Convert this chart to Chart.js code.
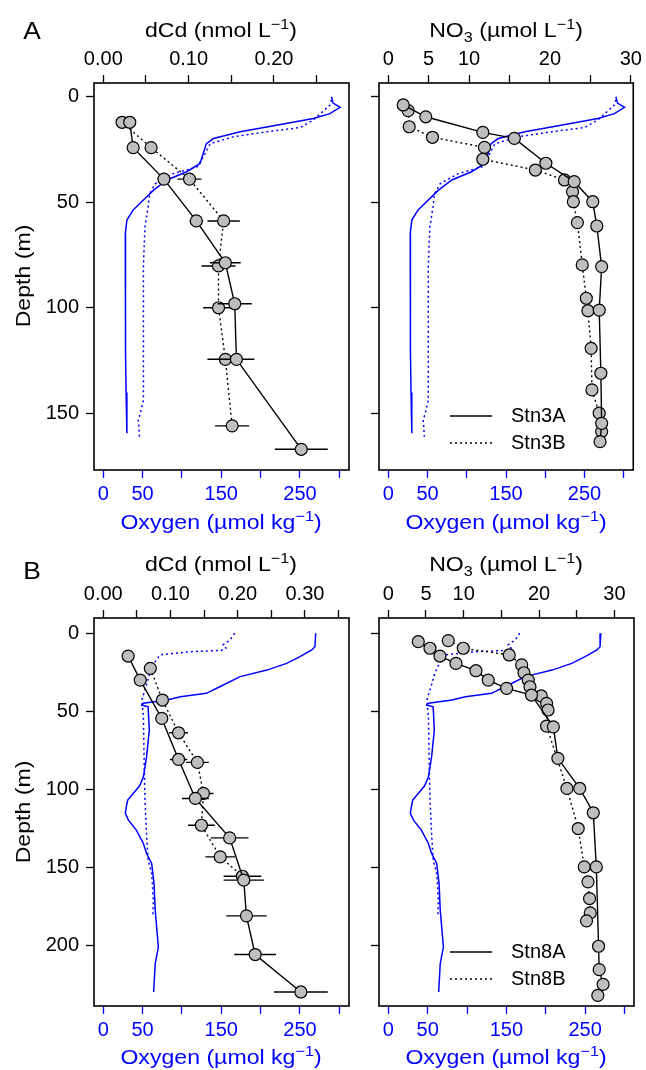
<!DOCTYPE html>
<html>
<head>
<meta charset="utf-8">
<script src="https://cdn.jsdelivr.net/npm/chart.js@4.4.1/dist/chart.umd.min.js"></script>
<style>
  html, body { margin: 0; padding: 0; background: #fff; }
  #wrap { position: relative; width: 646px; height: 1070px; overflow: hidden;
          font-family: "Liberation Sans", Arial, sans-serif; color: #000; }
  #wrap canvas { position: absolute; left: 0; top: 0; }
  .lbl { position: absolute; transform: translate(-50%, -50%) scaleX(1.1); white-space: nowrap;
         font-size: 21px; line-height: 1; }
  .lbl sup, .lbl sub { font-size: 70%; line-height: 0; }
  .blue { color: #0000ff; }
  .tag { font-size: 24px; transform: translate(-50%, -50%) scaleX(1.1); }
  .rot { transform: translate(-50%, -50%) rotate(-90deg) scaleX(1.1); }
</style>
</head>
<body>
<div id="wrap">
  <canvas id="cdA" width="646" height="1070"></canvas>
  <canvas id="no3A" width="646" height="1070"></canvas>
  <canvas id="cdB" width="646" height="1070"></canvas>
  <canvas id="no3B" width="646" height="1070"></canvas>

  <div class="lbl tag" style="left:32px;top:31px">A</div>
  <div class="lbl tag" style="left:32px;top:571px">B</div>

  <div class="lbl" style="left:221px;top:29px">dCd (nmol L<sup>−1</sup>)</div>
  <div class="lbl" style="left:506px;top:29px">NO<sub>3</sub> (µmol L<sup>−1</sup>)</div>
  <div class="lbl" style="left:221px;top:563px">dCd (nmol L<sup>−1</sup>)</div>
  <div class="lbl" style="left:506px;top:563px">NO<sub>3</sub> (µmol L<sup>−1</sup>)</div>

  <div class="lbl blue" style="left:221px;top:521px">Oxygen (µmol kg<sup>−1</sup>)</div>
  <div class="lbl blue" style="left:506px;top:521px">Oxygen (µmol kg<sup>−1</sup>)</div>
  <div class="lbl blue" style="left:221px;top:1056px">Oxygen (µmol kg<sup>−1</sup>)</div>
  <div class="lbl blue" style="left:506px;top:1056px">Oxygen (µmol kg<sup>−1</sup>)</div>

  <div class="lbl rot" style="left:22px;top:276px">Depth (m)</div>
  <div class="lbl rot" style="left:22px;top:812px">Depth (m)</div>
</div>

<script>
// ---- Stn3 dissolved Cd (nmol/L) ----
const cdDepth3A = [12.1, 24.1, 39.0, 58.8, 78.6, 98.0, 124.3, 166.9];
const cd3A      = [0.031, 0.035, 0.071, 0.109, 0.143, 0.154, 0.156, 0.232];
const cdErr3A   = [0, 0, 0, 0.008, 0.018, 0.020, 0.021, 0.031];
const cdDepth3B = [12.1, 24.1, 39.0, 58.8, 80.1, 99.9, 124.3, 155.8];
const cd3B      = [0.022, 0.056, 0.101, 0.141, 0.135, 0.135, 0.143, 0.151];
const cdErr3B   = [0, 0, 0.014, 0.019, 0.020, 0.018, 0.021, 0.020];

// ---- Stn3 nitrate (umol/L) ----
const no3Depth3A = [3.9, 9.5, 16.9, 19.7, 31.5, 40.2, 49.7, 61.2, 80.4, 101.0, 130.9, 154.6, 163.3];
const no33A      = [1.85, 4.64, 11.7, 15.6, 19.5, 23.0, 25.3, 25.8, 26.4, 26.1, 26.3, 26.4, 26.2];
const no3Depth3B = [6.6, 14.2, 19.2, 24.0, 29.6, 34.7, 39.4, 45.0, 49.7, 59.6, 79.6, 95.4, 101.3, 119.1, 138.8, 149.8, 158.5];
const no33B      = [2.46, 2.59, 5.47, 11.9, 11.7, 18.2, 21.8, 22.8, 22.9, 23.4, 24.0, 24.5, 24.7, 25.1, 25.2, 26.1, 26.4];

// ---- Stn3 oxygen (umol/kg) ----
const oxyDepth3A = [0, 3, 5, 8, 10.3, 13.5, 16.6, 19.8, 22.2, 26.9, 31.6, 35.5, 39.4, 44.2, 48.9, 53.6, 58.4, 64.7, 90, 120, 140, 159.3];
const oxy3A      = [290, 292, 301, 288, 267, 220, 174, 140, 131, 127, 123, 106, 81, 64, 51, 38, 30, 28, 28, 28.5, 29, 30];
const oxyDepth3B = [1.5, 4, 8, 11, 14.6, 16.6, 19, 22.2, 28.5, 33.3, 36.4, 41.2, 45.9, 52.2, 61.7, 80, 110, 143.6, 150, 153, 160.9];
const oxy3B      = [290, 288, 276, 267, 250, 208, 165, 136, 127, 119, 89, 66, 59, 57, 53, 51, 51, 51, 47, 44.5, 46];

// ---- Stn8 dissolved Cd ----
const cdDepth8A = [14.6, 30.0, 54.6, 80.9, 105.9, 131.2, 158.3, 181.2, 206.0, 230.0];
const cd8A      = [0.037, 0.055, 0.087, 0.112, 0.137, 0.188, 0.209, 0.213, 0.226, 0.294];
const cdErr8A   = [0, 0, 0.009, 0.013, 0.020, 0.028, 0.030, 0.030, 0.031, 0.040];
const cdDepth8B = [22.5, 42.8, 63.8, 82.8, 102.7, 123.1, 143.4, 155.8];
const cd8B      = [0.070, 0.088, 0.112, 0.140, 0.149, 0.146, 0.174, 0.207];
const cdErr8B   = [0, 0.009, 0.014, 0.017, 0.015, 0.020, 0.022, 0.028];

// ---- Stn8 nitrate ----
const no3Depth8A = [5.4, 9.6, 14.6, 19.3, 24.0, 30.0, 35.3, 39.6, 60.0, 80.2, 99.5, 115.1, 149.8, 200.7, 215.7, 225.1, 232.2];
const no38A      = [3.98, 5.53, 6.86, 8.98, 11.63, 13.26, 15.7, 19.0, 21.9, 22.5, 25.4, 27.2, 27.6, 27.9, 27.98, 28.5, 27.8];
const no3Depth8B = [4.7, 9.6, 13.9, 20.3, 25.3, 30.0, 34.3, 40.2, 44.9, 49.2, 59.5, 99.5, 125.2, 149.8, 159.4, 170.1, 179.3, 184.4];
const no38B      = [7.96, 9.95, 16.05, 17.7, 18.0, 18.57, 18.8, 20.3, 21.0, 21.2, 21.0, 23.7, 25.2, 26.0, 26.5, 26.7, 26.8, 26.3];

// ---- Stn8 oxygen ----
const oxyDepth8A = [0, 8.6, 10.7, 15, 19.3, 23.6, 27.8, 34.3, 38.5, 40.7, 42.8, 44.9, 46, 47.1, 62, 79.2, 92, 98, 102.7, 107, 112, 115.5, 119.8, 126.2, 134.8, 141.2, 147.6, 160.5, 177.6, 201.2, 211.8, 230];
const oxy8A      = [270, 269, 265, 250, 233, 208, 174, 148, 131, 98, 81, 51, 49, 57, 58.5, 55, 51, 46, 38, 31, 29, 28, 32, 42, 51, 55, 61.5, 64.5, 66, 70, 66, 64];
const oxyDepth8B = [0, 4.3, 7.5, 9.5, 11, 11.8, 13.9, 18.2, 25.7, 36.4, 42.8, 53.5, 83.4, 107, 128.4, 145.5, 154, 171.2, 180.8];
const oxy8B      = [167, 161, 152, 156, 150, 110, 72, 66, 59, 53, 49, 51, 52, 53, 55, 57, 61.5, 63.6, 63];

// ---- tick values and labels ----
const depthTicksA  = [0, 50, 100, 150];
const depthLabelsA = ['0', '50', '100', '150'];
const depthTicksB  = [0, 50, 100, 150, 200];
const depthLabelsB = ['0', '50', '100', '150', '200'];
const cdTicksA   = [0, 0.05, 0.10, 0.15, 0.20, 0.25];
const cdLabelsA  = ['0.00', '', '0.10', '', '0.20', ''];
const cdTicksB   = [0, 0.05, 0.10, 0.15, 0.20, 0.25, 0.30, 0.35];
const cdLabelsB  = ['0.00', '', '0.10', '', '0.20', '', '0.30', ''];
const no3Ticks   = [0, 5, 10, 15, 20, 25, 30];
const no3Labels  = ['0', '5', '10', '', '20', '', '30'];
const oxyTicks   = [0, 50, 100, 150, 200, 250, 300];
const oxyLabels  = ['0', '50', '', '150', '', '250', ''];

const FONT = '"Liberation Sans", Arial, sans-serif';
const TICK_FONT = { family: FONT, size: 20, lineHeight: 1.2 };
const BLUE = '#0000ff';
const DOTS = [2, 3];

const pts = (xs, ys) => xs.map((x, i) => ({ x, y: ys[i] }));

// box around the plotting area
const frame = {
    id: 'frame',
    afterDatasetsDraw(chart) {
        const { ctx, chartArea: a } = chart;
        ctx.save();
        ctx.strokeStyle = '#000';
        ctx.lineWidth = 1.6;
        ctx.strokeRect(a.left, a.top, a.right - a.left, a.bottom - a.top);
        ctx.restore();
    }
};

// horizontal error bars, drawn just under their circles
const errorBars = {
    id: 'errorBars',
    beforeDatasetDraw(chart, args) {
        const ds = chart.data.datasets[args.index];
        if (!ds.errors) return;
        const xs = chart.scales[ds.xAxisID], ys = chart.scales[ds.yAxisID];
        const ctx = chart.ctx;
        ctx.save();
        ctx.strokeStyle = '#000';
        ctx.lineWidth = 1.4;
        ctx.beginPath();
        ds.data.forEach((p, i) => {
            const e = ds.errors[i];
            if (!e) return;
            const y = ys.getPixelForValue(p.y);
            ctx.moveTo(xs.getPixelForValue(p.x - e), y);
            ctx.lineTo(xs.getPixelForValue(p.x + e), y);
        });
        ctx.stroke();
        ctx.restore();
    }
};

// station key in the lower part of the nitrate panels
const stnLegend = {
    id: 'stnLegend',
    afterDraw(chart, args, opts) {
        if (!opts.labels) return;
        const { ctx, chartArea: a } = chart;
        opts.labels.forEach((name, i) => {
            const y = a.bottom - 54 + i * 27;
            ctx.save();
            ctx.strokeStyle = '#000';
            ctx.lineWidth = 1.4;
            ctx.setLineDash(i ? DOTS : []);
            ctx.beginPath();
            ctx.moveTo(a.left + 71, y);
            ctx.lineTo(a.left + 113, y);
            ctx.stroke();
            ctx.fillStyle = '#000';
            ctx.font = `20px ${FONT}`;
            ctx.textBaseline = 'middle';
            ctx.fillText(name, a.left + 132, y);
            ctx.restore();
        });
    }
};

function axis(position, min, max, ticks, labels, color, extra) {
    return Object.assign({
        type: 'linear',
        position, min, max,
        afterBuildTicks: s => { s.ticks = ticks.map(v => ({ value: v })); },
        afterFit: s => { if (s.isHorizontal()) s.height = 40; else s.width = 50; },
        grid: { drawOnChartArea: false, color, tickLength: 8, tickWidth: 1.3 },
        border: { display: false },
        ticks: {
            color, autoSkip: false, maxRotation: 0, padding: 4,
            font: TICK_FONT,
            callback: (v, i) => labels[i]
        }
    }, extra || {});
}

function profile(label, xAxisID, xs, depths, errors, dotted) {
    return {
        label, xAxisID, yAxisID: 'y',
        data: pts(xs, depths),
        errors,
        showLine: true,
        borderColor: '#000',
        borderWidth: 1.4,
        borderDash: dotted ? DOTS : [],
        pointRadius: 6,
        pointBackgroundColor: '#bebebe',
        pointBorderColor: '#000',
        pointBorderWidth: 1.2
    };
}

function oxygen(label, xs, depths, dotted) {
    return {
        label, xAxisID: 'xO2', yAxisID: 'y',
        data: pts(xs, depths),
        showLine: true,
        borderColor: BLUE,
        borderWidth: 1.5,
        borderDash: dotted ? DOTS : [],
        pointRadius: 0
    };
}

function makePanel(id, box, yRange, yTicks, yLabels, topAxis, oxyRange, datasets, legendLabels) {
    const [l, t, r, b] = box;
    new Chart(document.getElementById(id), {
        type: 'scatter',
        data: { datasets },
        plugins: [errorBars, frame, stnLegend],
        options: {
            responsive: false,
            animation: false,
            devicePixelRatio: 1,
            layout: { padding: { left: l - 50, top: t - 40, right: 646 - r, bottom: 1070 - b - 40 } },
            scales: {
                y: axis('left', yRange[0], yRange[1], yTicks, yLabels, '#000',
                        { reverse: true, ticks: { color: '#000', autoSkip: false, padding: 7,
                          font: TICK_FONT, callback: (v, i) => yLabels[i] } }),
                xTop: axis('top', topAxis.min, topAxis.max, topAxis.ticks, topAxis.labels, '#000'),
                xO2: axis('bottom', oxyRange[0], oxyRange[1], oxyTicks, oxyLabels, BLUE)
            },
            plugins: {
                legend: { display: false },
                tooltip: { enabled: false },
                stnLegend: { labels: legendLabels }
            }
        }
    });
}

// Station 3
makePanel('cdA', [94, 83, 349, 470], [-6.5, 176.7], depthTicksA, depthLabelsA,
    { min: -0.0109, max: 0.2879, ticks: cdTicksA, labels: cdLabelsA }, [-11.8, 312.3], [
        profile('Stn3A', 'xTop', cd3A, cdDepth3A, cdErr3A, false),
        profile('Stn3B', 'xTop', cd3B, cdDepth3B, cdErr3B, true),
        oxygen('O2 Stn3A', oxy3A, oxyDepth3A, false),
        oxygen('O2 Stn3B', oxy3B, oxyDepth3B, true)
    ], null);

makePanel('no3A', [379, 83, 634, 470], [-6.5, 176.7], depthTicksA, ['', '', '', ''],
    { min: -1.146, max: 30.31, ticks: no3Ticks, labels: no3Labels }, [-11.8, 312.1], [
        profile('Stn3A', 'xTop', no33A, no3Depth3A, null, false),
        profile('Stn3B', 'xTop', no33B, no3Depth3B, null, true),
        oxygen('O2 Stn3A', oxy3A, oxyDepth3A, false),
        oxygen('O2 Stn3B', oxy3B, oxyDepth3B, true)
    ], ['Stn3A', 'Stn3B']);

// Station 8
makePanel('cdB', [94, 618, 349, 1006], [-9.8, 239], depthTicksB, depthLabelsB,
    { min: -0.0138, max: 0.3656, ticks: cdTicksB, labels: cdLabelsB }, [-11.8, 312.3], [
        profile('Stn8A', 'xTop', cd8A, cdDepth8A, cdErr8A, false),
        profile('Stn8B', 'xTop', cd8B, cdDepth8B, cdErr8B, true),
        oxygen('O2 Stn8A', oxy8A, oxyDepth8A, false),
        oxygen('O2 Stn8B', oxy8B, oxyDepth8B, true)
    ], null);

makePanel('no3B', [379, 618, 634, 1006], [-9.8, 239], depthTicksB, ['', '', '', '', ''],
    { min: -1.23, max: 32.6, ticks: no3Ticks, labels: no3Labels }, [-11.8, 312.1], [
        profile('Stn8A', 'xTop', no38A, no3Depth8A, null, false),
        profile('Stn8B', 'xTop', no38B, no3Depth8B, null, true),
        oxygen('O2 Stn8A', oxy8A, oxyDepth8A, false),
        oxygen('O2 Stn8B', oxy8B, oxyDepth8B, true)
    ], ['Stn8A', 'Stn8B']);
</script>
</body>
</html>
